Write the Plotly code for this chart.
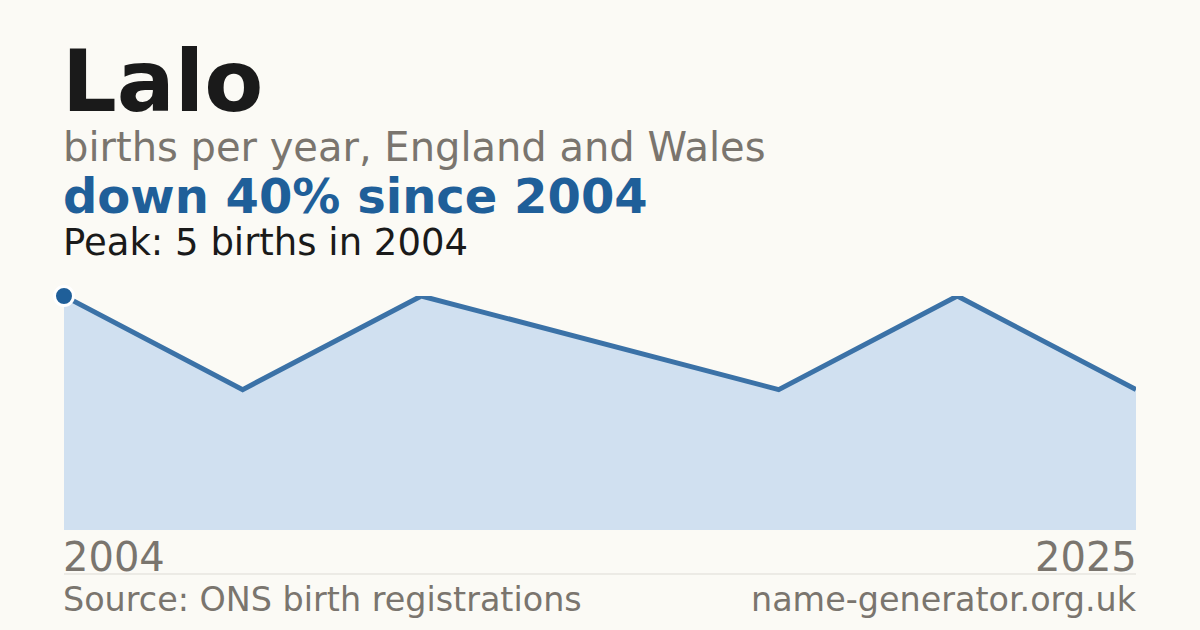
import plotly.graph_objects as go

# Births per registration year (only the years that appear in the series)
years = ["2004", "2007", "2011", "2014", "2018", "2021", "2025"]
births = [5, 3, 5, 4, 3, 5, 3]
idx = list(range(len(years)))

title = "Lalo"
subtitle = "births per year, England and Wales"
headline = "down 40% since 2004"
peak_note = "Peak: 5 births in 2004"
source = "Source: ONS birth registrations"
site = "name-generator.org.uk"

W, H = 1200, 630
top, bottom = 296, 530
ph = bottom - top


def py(pix):
    # pixel row -> paper coordinate
    return (bottom - pix) / ph


bg = "#fbfaf5"
blue = "#1f5f99"
grey = "#7a756e"

fig = go.Figure()
fig.add_trace(go.Scatter(
    x=idx, y=births, mode="lines",
    line=dict(color="#3b72a7", width=5),
    fill="tozeroy", fillcolor="#d0e0f0",
    cliponaxis=False, hoverinfo="skip",
))
fig.add_trace(go.Scatter(
    x=[idx[0]], y=[births[0]], mode="markers",
    marker=dict(color=blue, size=19, line=dict(color="white", width=3)),
    cliponaxis=False, hoverinfo="skip",
))

font = "DejaVu Sans"
ann = [
    dict(text="<b>%s</b>" % title, x=0, y=py(81), xanchor="left", yanchor="middle",
         font=dict(size=86, color="#1a1a1a", family=font), xshift=-4),
    dict(text=subtitle, x=0, y=py(147), xanchor="left", yanchor="middle",
         font=dict(size=40, color=grey, family=font), xshift=-3),
    dict(text="<b>%s</b>" % headline, x=0, y=py(196), xanchor="left", yanchor="middle",
         font=dict(size=48, color=blue, family=font), xshift=-3),
    dict(text=peak_note, x=0, y=py(243), xanchor="left", yanchor="middle",
         font=dict(size=37, color="#1a1a1a", family=font), xshift=-3),
    dict(text=years[0], x=0, y=py(557), xanchor="left", yanchor="middle",
         font=dict(size=40, color=grey, family=font), xshift=-3),
    dict(text=years[-1], x=1, y=py(557), xanchor="right", yanchor="middle",
         font=dict(size=40, color=grey, family=font), xshift=3),
    dict(text=source, x=0, y=py(599), xanchor="left", yanchor="middle",
         font=dict(size=33.4, color=grey, family=font), xshift=-3),
    dict(text=site, x=1, y=py(599), xanchor="right", yanchor="middle",
         font=dict(size=33.4, color=grey, family=font), xshift=3),
]
for a in ann:
    a.update(xref="paper", yref="paper", showarrow=False)

fig.update_layout(
    width=W, height=H,
    margin=dict(l=64, r=64, t=top, b=H - bottom, pad=0),
    paper_bgcolor=bg, plot_bgcolor=bg,
    showlegend=False,
    annotations=ann,
    xaxis=dict(range=[0, len(years) - 1], visible=False, fixedrange=True),
    yaxis=dict(range=[0, max(births)], visible=False, fixedrange=True),
    shapes=[dict(type="line", xref="paper", yref="paper", x0=0, x1=1,
                 y0=py(574), y1=py(574), line=dict(color="#dddbd5", width=1))],
)

fig.write_html("out.html", config={"displayModeBar": False},
               post_script="document.body.style.margin='0';")
